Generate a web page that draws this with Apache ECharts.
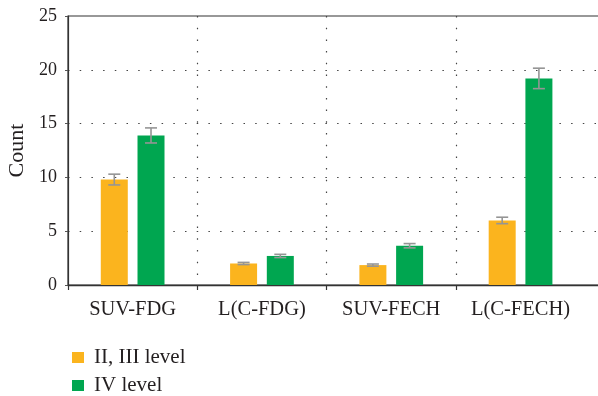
<!DOCTYPE html>
<html>
<head>
<meta charset="utf-8">
<script src="https://cdn.jsdelivr.net/npm/echarts@6/dist/echarts.min.js"></script>
<style>
  html, body { margin: 0; padding: 0; background: #fff; }
  #chart { width: 598px; height: 396px; }
</style>
</head>
<body>
<div id="chart"></div>
<script>
// Groups on the x axis
const categories = ['SUV-FDG', 'L(C-FDG)', 'SUV-FECH', 'L(C-FECH)'];

// Series names
const seriesNames = ['II, III level', 'IV level'];

// Mean counts per group
const lowLevelMeans = [9.8, 2.0, 1.85, 6.0];
const highLevelMeans = [13.9, 2.7, 3.65, 19.2];

// Error bar half-lengths
const lowLevelErrors = [0.5, 0.1, 0.1, 0.3];
const highLevelErrors = [0.7, 0.15, 0.2, 0.95];

// Y axis ticks
const yTicks = [0, 5, 10, 15, 20, 25];

const COLORS = ['#FBB41E', '#00A650'];
const FONT = 'Liberation Serif';
const TEXT = '#231f20';
const BAR_WIDTH = 27;
const BAR_GAP = 0.36;               // fraction of bar width
const BAND = 129.3;                 // pixel width of one group
const CAT_COUNT = categories.length;

// One spare empty slot keeps the frame running past the right edge
const axisCategories = categories.concat(['']);

const dotted = { color: '#444', width: 1.2, type: [1.5, 10.2] };

function errorSeries(name, means, errs, side) {
  const data = means.map((m, i) => [i, m, errs[i]]);
  const offset = side * (BAR_WIDTH * (1 + BAR_GAP)) / 2;
  return {
    type: 'custom',
    name: name + ' error',
    z: 5,
    silent: true,
    data: data,
    renderItem: function (params, api) {
      const idx = api.value(0), mean = api.value(1), err = api.value(2);
      const top = api.coord([idx, mean + err]);
      const bot = api.coord([idx, mean - err]);
      const x = top[0] + offset;
      const cap = 6;
      const style = { stroke: '#959595', lineWidth: 1.6 };
      return {
        type: 'group',
        children: [
          { type: 'line', shape: { x1: x, y1: top[1], x2: x, y2: bot[1] }, style: style },
          { type: 'line', shape: { x1: x - cap, y1: top[1], x2: x + cap, y2: top[1] }, style: style },
          { type: 'line', shape: { x1: x - cap, y1: bot[1], x2: x + cap, y2: bot[1] }, style: style }
        ]
      };
    }
  };
}

const chart = echarts.init(document.getElementById('chart'), null, { renderer: 'canvas' });

chart.setOption({
  animation: false,
  backgroundColor: '#fff',
  grid: {
    show: true,
    left: 68,
    top: 16,
    width: BAND * axisCategories.length,
    height: 269,
    containLabel: false,
    outerBoundsMode: 'none',
    borderColor: '#333',
    borderWidth: 1.2,
    backgroundColor: 'transparent'
  },
  legend: {
    orient: 'vertical',
    left: 67,
    top: 342,
    height: 60,
    itemWidth: 12,
    itemHeight: 11,
    itemGap: 7,
    icon: 'rect',
    data: seriesNames,
    textStyle: { fontFamily: FONT, fontSize: 21, color: TEXT, padding: [0, 0, 0, 5], lineHeight: 21 }
  },
  xAxis: {
    type: 'category',
    data: axisCategories,
    boundaryGap: true,
    axisLine: { show: true, lineStyle: { color: '#333', width: 1.3 } },
    axisTick: {
      show: true,
      length: 5,
      interval: (i) => i < CAT_COUNT,
      lineStyle: { color: '#333', width: 1.2 }
    },
    axisLabel: {
      fontFamily: FONT, fontSize: 20.5, color: TEXT, margin: 14,
      interval: 0
    },
    splitLine: {
      show: true,
      showMinLine: false,
      interval: (i) => i < CAT_COUNT,
      lineStyle: dotted
    }
  },
  yAxis: {
    type: 'value',
    min: yTicks[0],
    max: yTicks[yTicks.length - 1],
    interval: yTicks[1] - yTicks[0],
    name: 'Count',
    nameLocation: 'middle',
    nameGap: 39,
    nameTextStyle: { fontFamily: FONT, fontSize: 22, color: TEXT },
    axisLine: { show: true, lineStyle: { color: '#333', width: 1.2 } },
    axisTick: { show: true, length: 3, lineStyle: { color: '#555' } },
    axisLabel: { fontFamily: FONT, fontSize: 18, color: TEXT, margin: 11 },
    splitLine: { show: true, showMinLine: false, showMaxLine: false, lineStyle: dotted }
  },
  series: [
    {
      name: seriesNames[0],
      type: 'bar',
      barWidth: BAR_WIDTH,
      barGap: (BAR_GAP * 100) + '%',
      itemStyle: { color: COLORS[0] },
      data: lowLevelMeans
    },
    {
      name: seriesNames[1],
      type: 'bar',
      barWidth: BAR_WIDTH,
      barGap: (BAR_GAP * 100) + '%',
      itemStyle: { color: COLORS[1] },
      data: highLevelMeans
    },
    errorSeries(seriesNames[0], lowLevelMeans, lowLevelErrors, -1),
    errorSeries(seriesNames[1], highLevelMeans, highLevelErrors, 1)
  ]
});
</script>
</body>
</html>
